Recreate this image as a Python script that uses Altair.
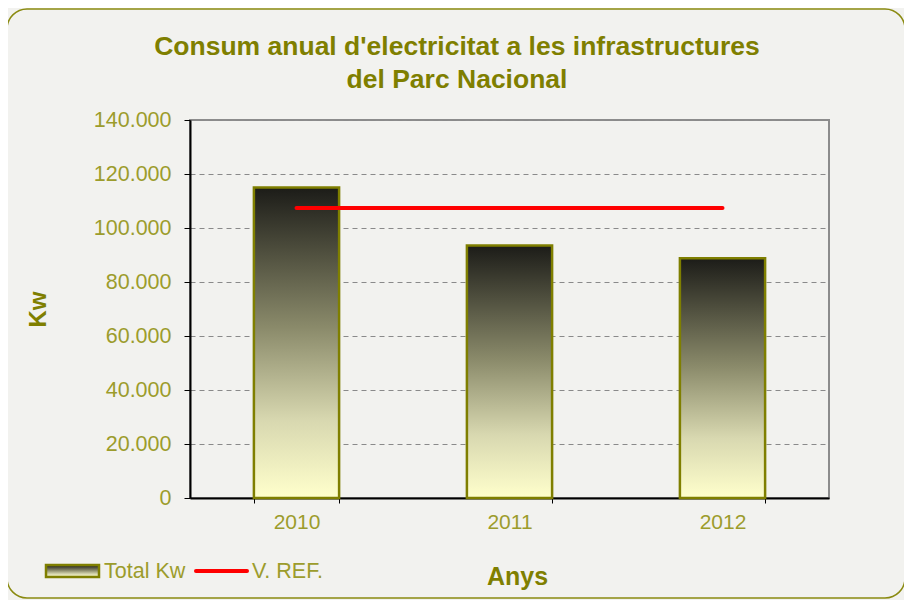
import altair as alt
import pandas as pd

years = ["2010", "2011", "2012"]
total_kw = [115000, 93500, 88800]
vref = [107400, 107400, 107400]
title_lines = ["Consum anual d'electricitat a les infrastructures", "del Parc Nacional"]

df = pd.DataFrame({"year": years, "total": total_kw, "vref": vref})

OLIVE = "#7f7f00"
LABEL = "#9c9c2c"
FONT = "Liberation Sans"

grad = alt.Gradient(
    gradient="linear",
    stops=[
        alt.GradientStop(color="#1c1c18", offset=0),
        alt.GradientStop(color="#8a8a6a", offset=0.45),
        alt.GradientStop(color="#d8d8b0", offset=0.75),
        alt.GradientStop(color="#ffffcc", offset=1),
    ],
    x1=0, x2=0, y1=0, y2=1,
)

xscale = alt.Scale(paddingInner=0.6, paddingOuter=0.3)
yscale = alt.Scale(domain=[0, 140000])

x_enc = alt.X(
    "year:N",
    scale=xscale,
    sort=years,
    axis=alt.Axis(
        title="Anys",
        labelAngle=0,
        tickBand="extent",
        titleX=327,
        titleY=78,
        titleBaseline="middle",
        titleAlign="center",
        titleFontSize=25,
        titleFontWeight="bold",
        titleColor=OLIVE,
        labelFontSize=21,
        labelColor=LABEL,
        labelPadding=8,
        domainColor="#000000",
        tickColor="#000000",
        tickSize=5,
        domainWidth=2,
    ),
)

y_axis = alt.Axis(
    title="Kw",
    values=[0, 20000, 40000, 60000, 80000, 100000, 120000, 140000],
    labelExpr="replace(format(datum.value, ','), ',', '.')",
    grid=True,
    gridDash=[5, 4],
    gridColor="#8a8a8a",
    gridWidth=1,
    titleX=-152,
    titleY=189,
    titleAngle=-90,
    titleAlign="center",
    titleBaseline="middle",
    titleFontSize=24,
    titleFontWeight="bold",
    titleColor=OLIVE,
    labelFontSize=21.5,
    labelColor=LABEL,
    labelPadding=13,
    domainColor="#000000",
    tickColor="#000000",
    tickSize=6,
    domainWidth=2,
)

bars = alt.Chart(df).mark_bar(fill=grad, stroke="#7f7f00", strokeWidth=2.5).encode(
    x=x_enc,
    y=alt.Y("total:Q", scale=yscale, axis=y_axis),
)

line = alt.Chart(df).mark_line(color="#ff0000", strokeWidth=4, strokeCap="round").encode(
    x=alt.X("year:N", sort=years, scale=xscale),
    y=alt.Y("vref:Q", scale=yscale),
)

deco = pd.DataFrame({"k": [0]})

frame = alt.Chart(deco).mark_rect(
    fill=None, fillOpacity=0, stroke="#8a8a10", strokeWidth=1.5, cornerRadius=20
).encode(
    x=alt.value(-183), x2=alt.value(715), y=alt.value(-111), y2=alt.value(478)
)

title1 = alt.Chart(deco).mark_text(
    text=title_lines[0], align="center", baseline="middle", fontSize=26.5, fontWeight="bold",
    color=OLIVE, font=FONT
).encode(x=alt.value(267), y=alt.value(-73))
title2 = alt.Chart(deco).mark_text(
    text=title_lines[1], align="center", baseline="middle", fontSize=26.5, fontWeight="bold",
    color=OLIVE, font=FONT
).encode(x=alt.value(267), y=alt.value(-40))

leg_rect = alt.Chart(deco).mark_rect(fill=grad, stroke="#7f7f00", strokeWidth=2.5).encode(
    x=alt.value(-144), x2=alt.value(-91), y=alt.value(445), y2=alt.value(457)
)
leg_text1 = alt.Chart(deco).mark_text(
    text="Total Kw", align="left", baseline="middle", fontSize=21.5, color=LABEL, font=FONT
).encode(x=alt.value(-86), y=alt.value(452))
leg_line = alt.Chart(deco).mark_rule(color="#ff0000", strokeWidth=4, strokeCap="round").encode(
    x=alt.value(6), x2=alt.value(57), y=alt.value(451)
)
leg_text2 = alt.Chart(deco).mark_text(
    text="V. REF.", align="left", baseline="middle", fontSize=21.5, color=LABEL, font=FONT
).encode(x=alt.value(62), y=alt.value(452))

chart = alt.layer(
    frame, bars, line, title1, title2, leg_rect, leg_text1, leg_line, leg_text2
).properties(
    width=639,
    height=378,
    autosize=alt.AutoSizeParams(type="none"),
    padding={"left": 182, "top": 112, "right": 75, "bottom": 102},
    background="#f2f2ef",
).configure_view(
    stroke="#8c8c8c", strokeWidth=2
).configure_axis(
    labelFont=FONT, titleFont=FONT
)

chart.save("out.html", embed_options={"renderer": "svg", "actions": False})
